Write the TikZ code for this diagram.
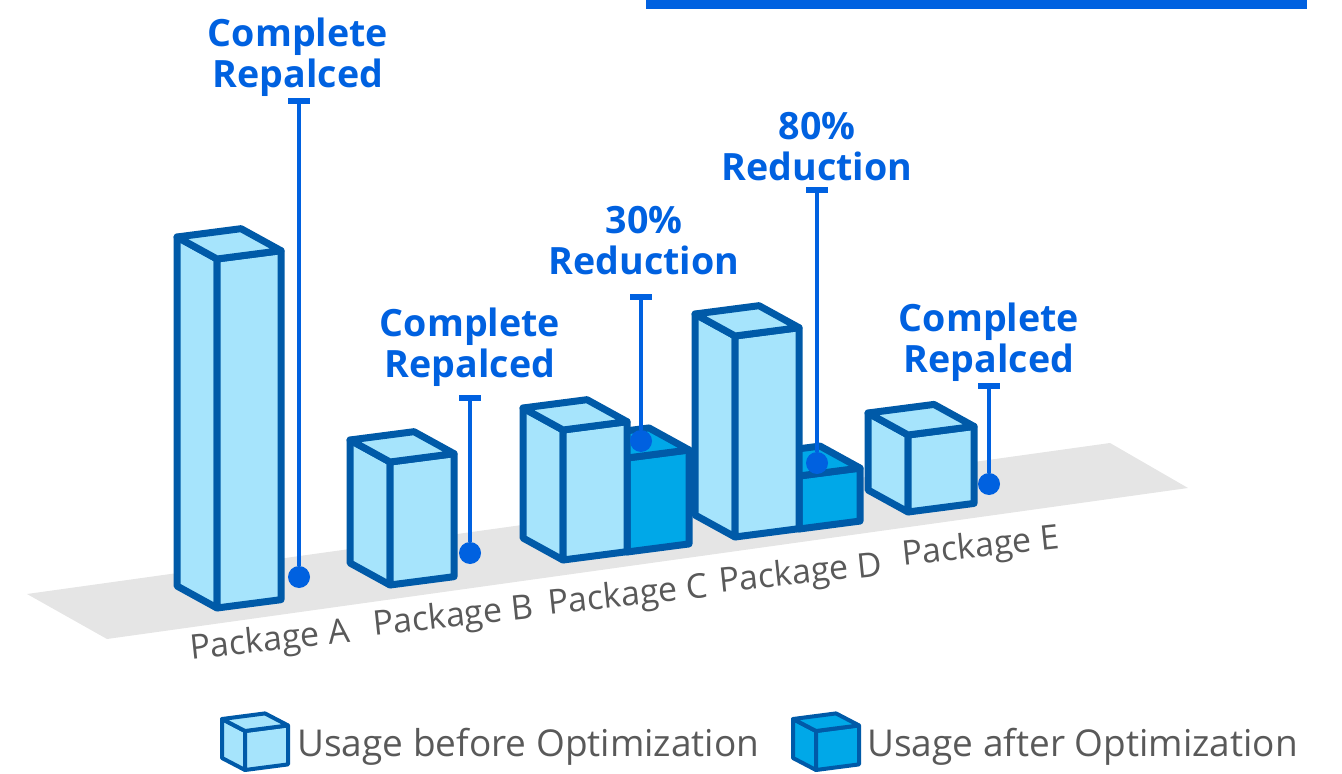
\documentclass[tikz,border=0pt]{standalone}
\usepackage{fontspec}
\setmainfont{Open Sans}
\usepackage{tikz}
\usetikzlibrary{arrows.meta}

\definecolor{boxline}{HTML}{005AA8}
\definecolor{beforefill}{HTML}{A6E4FC}
\definecolor{afterfill}{HTML}{00A8E8}
\definecolor{accent}{HTML}{0061E0}
\definecolor{labelgray}{HTML}{595959}
\definecolor{floorgray}{HTML}{E5E5E5}

\tikzstyle{cube} = [draw=boxline, line width=3.5pt, line join=round]
\tikzstyle{lead} = [draw=accent, line width=2.2pt, -{Bar[width=11pt, line width=3pt]}]
\tikzstyle{dot} = [circle, fill=accent, inner sep=0pt, minimum size=11pt]
\tikzstyle{callout} = [text=accent, font=\fontsize{18.8}{20.5}\selectfont\bfseries, align=center, inner sep=0pt, anchor=south]
\tikzstyle{pkglabel} = [text=labelgray, font=\fontsize{17}{20}\selectfont, rotate=6, anchor=base, inner sep=0pt]
\tikzstyle{legendtext} = [text=labelgray, font=\fontsize{18.5}{22}\selectfont, anchor=base west, inner sep=0pt]

% front bottom corner (#1,#2), width #3, height #4, depth (#5,#6), fill #7
\newcommand{\drawcube}[7]{
  \filldraw[cube, fill=#7] (#1,#2) -- ++(-#5,-#6) -- ++(0,-#4) -- ++(#5,#6) -- cycle;
  \filldraw[cube, fill=#7] (#1,#2) -- ++(#3,{-0.13*#3}) -- ++(0,-#4) -- ++(-#3,{0.13*#3}) -- cycle;
  \filldraw[cube, fill=#7] (#1,#2-#4) -- ++(#3,{-0.13*#3}) -- ++(-#5,-#6) -- ++(-#3,{0.13*#3}) -- cycle;
}

\begin{document}
\begin{tikzpicture}[x=0.5pt, y=-0.5pt]
        \useasboundingbox (0,0) rectangle (1342,774);
        \fill[accent] (646,0) rectangle (1307,9);
        \fill[floorgray] (27,594) -- (107,639) -- (1188,488) -- (1110,443) -- cycle;

        % bars, back to front
        \drawcube{908}{512}{66}{77}{40}{22}{beforefill}
        \drawcube{799}{529}{61}{53}{40}{22}{afterfill}
        \drawcube{735}{537}{64}{201}{40}{22}{beforefill}
        \drawcube{627}{552}{62}{94}{40}{22}{afterfill}
        \drawcube{563}{560}{64}{130}{40}{22}{beforefill}
        \drawcube{390}{585}{64}{123}{40}{22}{beforefill}
        \drawcube{217}{608}{64}{349}{40}{22}{beforefill}

        \node (labA) [pkglabel] at (271,651) {Package A};
        \node (labB) [pkglabel] at (454,627) {Package B};
        \node (labC) [pkglabel] at (629,606) {Package C};
        \node (labD) [pkglabel] at (802,584) {Package D};
        \node (labE) [pkglabel] at (982,557) {Package E};

        \node (dotA) [dot] at (299,577) {};
        \node (dotB) [dot] at (470,553) {};
        \node (dotC) [dot] at (641,441) {};
        \node (dotD) [dot] at (817,463) {};
        \node (dotE) [dot] at (989,484) {};
        \coordinate (capA) at (299,98);
        \coordinate (capB) at (470,395);
        \coordinate (capC) at (641,294);
        \coordinate (capD) at (817,187);
        \coordinate (capE) at (989,383);

        \node (noteA) [callout] at (298,97) {Complete\\Repalced};
        \node (noteB) [callout] at (470,387) {Complete\\Repalced};
        \node (noteC) [callout] at (644,275) {30\%\\Reduction};
        \node (noteD) [callout] at (817,181) {80\%\\Reduction};
        \node (noteE) [callout] at (989,382) {Complete\\Repalced};

        \draw [lead] (dotA) -- (capA);
        \draw [lead] (dotB) -- (capB);
        \draw [lead] (dotC) -- (capC);
        \draw [lead] (dotD) -- (capD);
        \draw [lead] (dotE) -- (capE);

        % legend
        \begin{scope}[cube/.append style={line width=2pt}]
        \drawcube{245}{770}{43}{39}{23}{12}{beforefill}
        \drawcube{816}{770}{43}{39}{23}{12}{afterfill}
        \end{scope}
        \node (keybefore) [legendtext] at (297,756) {Usage before Optimization};
        \node (keyafter) [legendtext] at (867,756) {Usage after Optimization};
\end{tikzpicture}
\end{document}
